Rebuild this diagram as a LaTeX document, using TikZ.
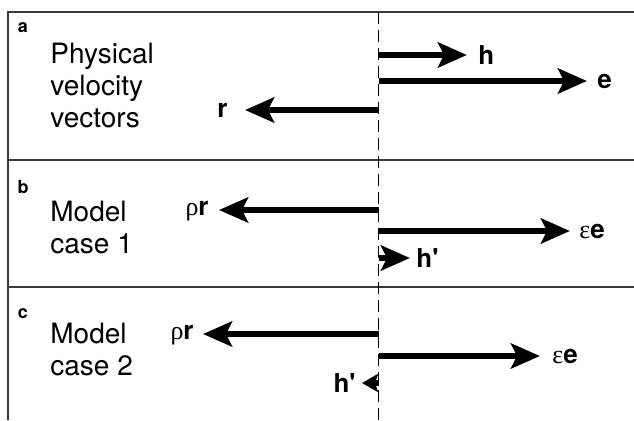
\documentclass[tikz,border=0pt]{standalone}
\usepackage{fontspec}
\setmainfont{TeX Gyre Heros}
\newfontfamily\grk{Liberation Serif}
\usetikzlibrary{positioning,arrows.meta}
\definecolor{quadro}{HTML}{3a3a3a}

\begin{document}
\begin{tikzpicture}[
  x=0.5pt, y=-0.5pt,
  rotulo/.style={font=\fontsize{13}{15}\selectfont\bfseries, inner sep=0pt},
  painel/.style={font=\fontsize{9}{10}\selectfont\bfseries, inner sep=0pt},
  legenda/.style={font=\fontsize{14}{16}\selectfont, align=left, inner sep=0pt, anchor=north west},
  vetor/.style={-{Stealth[length=14.5pt, width=12.5pt, inset=3pt]}, line width=3pt},
  vetorc/.style={-{Stealth[length=8pt, width=9pt, inset=1.5pt]}, line width=3pt},
  divisa/.style={draw=quadro, line width=0.65pt},
  eixo/.style={dash pattern=on 6pt off 3pt, line width=0.5pt}]
\useasboundingbox (0,0) rectangle (634,420);
\draw[divisa] (634,12) -- (8,12) -- (8,420);
\draw[divisa] (8,160) -- (634,160);
\draw[divisa] (8,287) -- (634,287);

\node[painel] (pa) at (23,28) {a};
\node[legenda] (ta) at (50,43) {Physical\\velocity\\vectors};
\coordinate (ah0) at (379,55);  \coordinate (ah) at (467,55);
\coordinate (ae0) at (379,81);  \coordinate (ae) at (587,81);
\coordinate (ar0) at (379,110); \coordinate (ar) at (245,110);
\node[rotulo, right=5.5pt of ah] (lah) {h};
\node[rotulo, right=5pt of ae] (lae) {e};
\node[rotulo, left=8.5pt of ar] (lar) {r};
\draw[vetor] (ah0) -- (ah);
\draw[vetor] (ae0) -- (ae);
\draw[vetor] (ar0) -- (ar);

\node[painel] (pb) at (23,187) {b};
\node[legenda] (tb) at (50,201) {Model\\case 1};
\coordinate (br0) at (379,210); \coordinate (br) at (219,210);
\coordinate (be0) at (379,231); \coordinate (be) at (570,231);
\coordinate (bh0) at (379,258); \coordinate (bh) at (410,258);
\node[rotulo, left=5pt of br, anchor=mid east] (lbr) {{\grk\mdseries ρ}r};
\node[rotulo, right=4.5pt of be] (lbe) {{\grk\mdseries ε}e};
\node[rotulo, right=3pt of bh] (lbh) {h\textquotesingle};
\draw[vetor] (br0) -- (br);
\draw[vetor] (be0) -- (be);
\draw[vetor] (bh0) -- (bh);

\node[painel] (pc) at (23,314) {c};
\node[legenda] (tc) at (50,323) {Model\\case 2};
\coordinate (cr0) at (379,334); \coordinate (cr) at (203,334);
\coordinate (ce0) at (379,356); \coordinate (ce) at (540,356);
\coordinate (ch0) at (379,383); \coordinate (ch) at (362,383);
\node[rotulo, left=4.5pt of cr, anchor=mid east] (lcr) {{\grk\mdseries ρ}r};
\node[rotulo, right=6pt of ce] (lce) {{\grk\mdseries ε}e};
\node[rotulo, left=3pt of ch] (lch) {h\textquotesingle};
\draw[vetor] (cr0) -- (cr);
\draw[vetor] (ce0) -- (ce);
\draw[vetorc] (ch0) -- (ch);

\draw[eixo] (379,12) -- (379,420);
\end{tikzpicture}
\end{document}
